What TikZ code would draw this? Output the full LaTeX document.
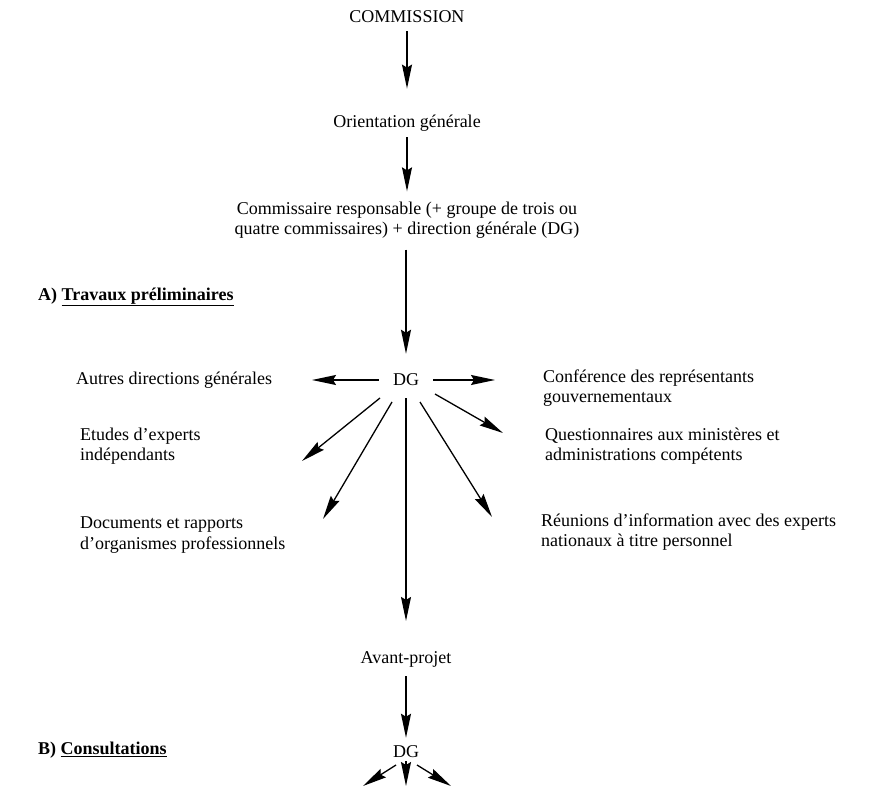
\documentclass[tikz,border=0pt]{standalone}
\usepackage{fontspec}
\setmainfont{Liberation Serif}
\usetikzlibrary{arrows.meta}
\tikzset{
  txt/.style={inner sep=0pt, font=\fontsize{18}{20.5}\selectfont},
  ltxt/.style={txt, anchor=west, align=left},
  head/.style={txt, anchor=west, font=\fontsize{18}{20.5}\selectfont\bfseries},
  arr/.style={line width=1.3pt, -{Stealth[length=24pt,width=10pt,inset=3pt]}}
}
\begin{document}
\begin{tikzpicture}[x=1pt,y=-1pt]
\useasboundingbox (0,0) rectangle (876,786);
\node[txt] (comm) at (407,17) {COMMISSION};
\node[txt] (orient) at (407,123) {Orientation générale};
\node[txt, align=center] (cr) at (407,220) {Commissaire responsable (+ groupe de trois ou\\quatre commissaires) + direction générale (DG)};
\node[head] (ta) at (38,297) {A) \underline{Travaux préliminaires}};
\node[txt] (dg) at (406,380) {DG};
\node[ltxt] (autres) at (76,380) {Autres directions générales};
\node[ltxt] (conf) at (543,388) {Conférence des représentants\\gouvernementaux};
\node[ltxt] (etudes) at (80,446) {Etudes d'experts\\indépendants};
\node[ltxt] (quest) at (545,446) {Questionnaires aux ministères et\\administrations compétents};
\node[ltxt] (docs) at (80,535) {Documents et rapports\\d'organismes professionnels};
\node[ltxt] (reun) at (541,532) {Réunions d'information avec des experts\\nationaux à titre personnel};
\node[txt] (avant) at (406,659) {Avant-projet};
\node[head] (cb) at (38,750) {B) \underline{Consultations}};
\node[txt] (dg2) at (406,752) {DG};
% free ends of the arrows
\coordinate (sE) at (380,398); \coordinate (eE) at (302,461);
\coordinate (sD) at (392,402); \coordinate (eD) at (323,519);
\coordinate (sR) at (420,402); \coordinate (eR) at (492,517);
\coordinate (sQ) at (435,394); \coordinate (eQ) at (503,433);
\coordinate (eL) at (312,380);
\coordinate (eRt) at (495,380);
\coordinate (b1s) at (396,765); \coordinate (b1e) at (363,786);
\coordinate (b3s) at (417,765); \coordinate (b3e) at (451,786);
\coordinate (b2e) at (406,786);
% vertical chain
\draw[arr, shorten <=8pt, shorten >=26pt] (comm) -- (orient.north -| comm);
\draw[arr, shorten <=6pt, shorten >=10pt] (orient) -- (cr.north -| orient);
\draw[arr, shorten <=11pt, shorten >=20pt] (cr.south -| dg) -- (dg);
\draw[arr, shorten <=12pt, shorten >=30pt] (dg) -- (avant);
\draw[arr, shorten <=9pt, shorten >=8pt] (avant) -- (dg2);
% fan
\draw[arr, shorten <=14pt] (dg) -- (eL);
\draw[arr, shorten <=14pt] (dg) -- (eRt);
\draw[arr] (sE) -- (eE);
\draw[arr] (sD) -- (eD);
\draw[arr] (sR) -- (eR);
\draw[arr] (sQ) -- (eQ);
% bottom
\draw[arr] (b1s) -- (b1e);
\draw[arr, shorten <=3pt] (dg2) -- (b2e);
\draw[arr] (b3s) -- (b3e);
\end{tikzpicture}
\end{document}
